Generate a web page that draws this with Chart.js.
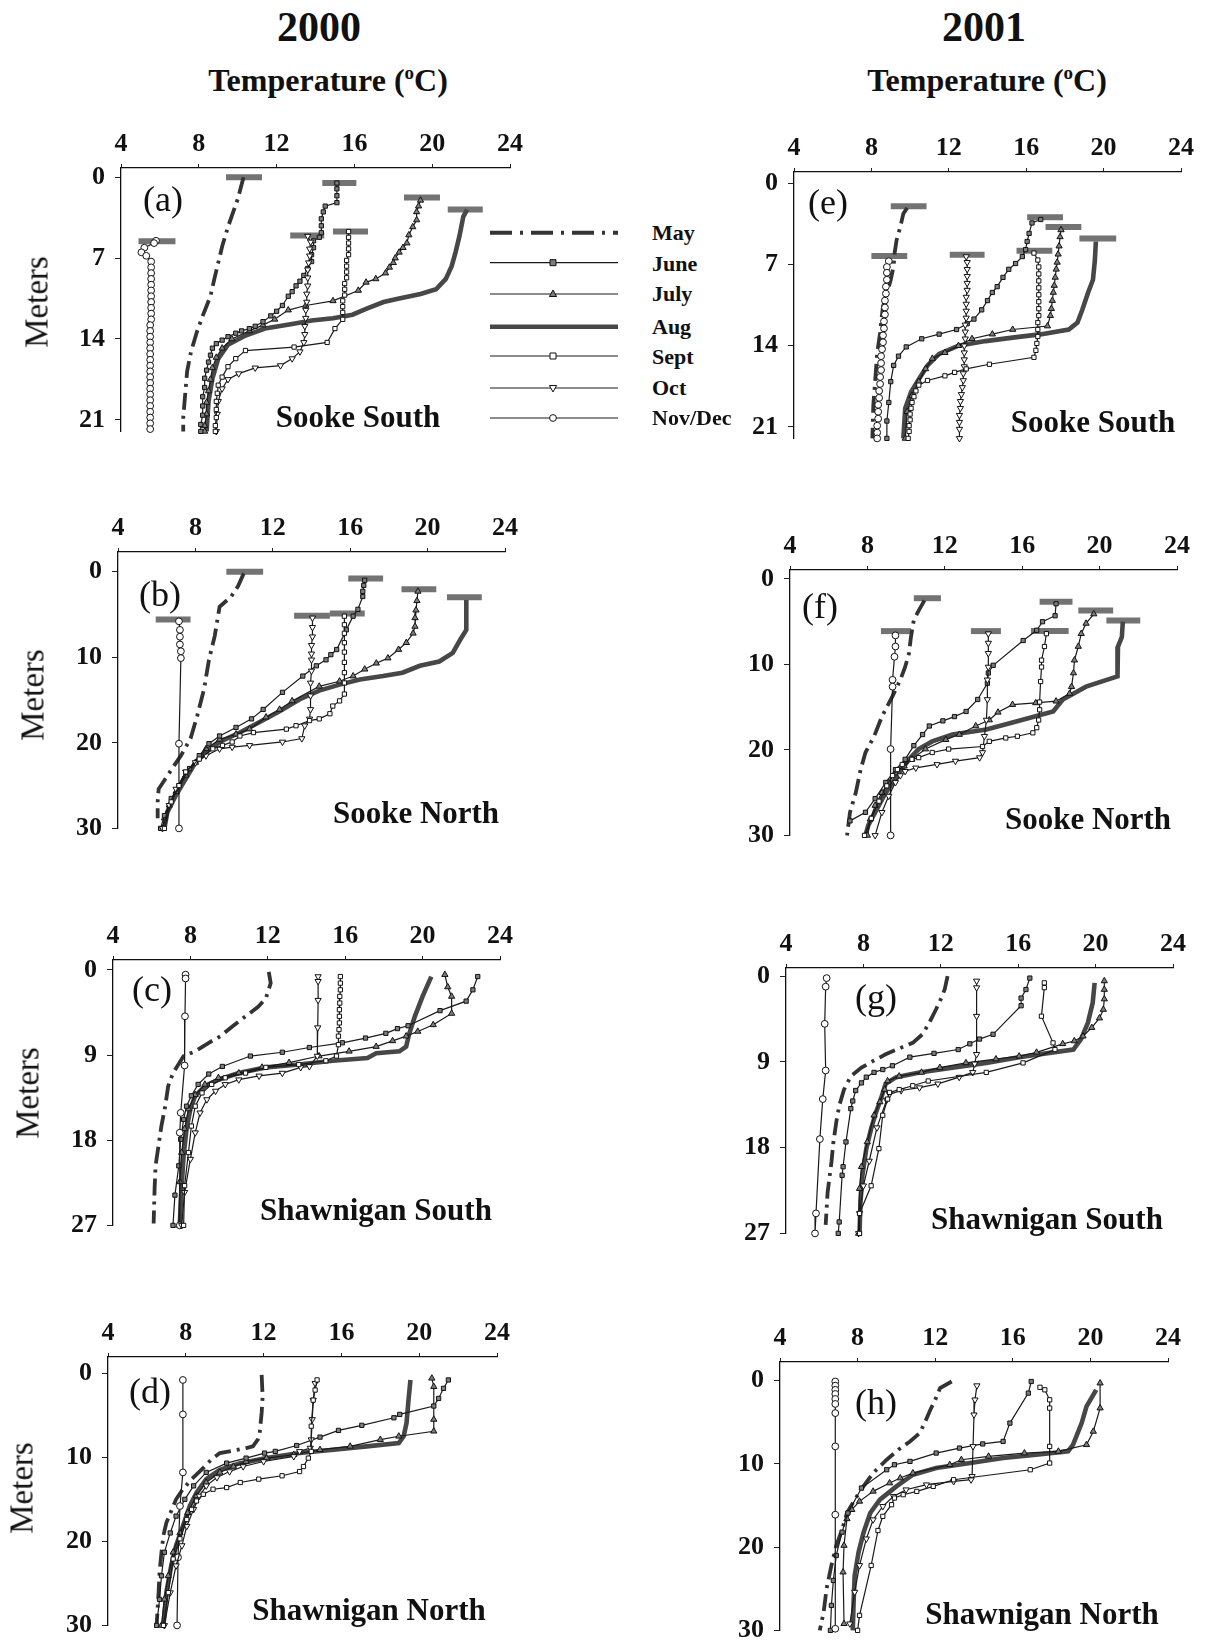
<!DOCTYPE html>
<html><head><meta charset="utf-8">
<script src="https://cdn.jsdelivr.net/npm/chart.js@4.4.0/dist/chart.umd.min.js"></script>
<style>
html,body{margin:0;padding:0;background:#fff;}
body{width:1205px;height:1643px;position:relative;overflow:hidden;font-family:"Liberation Serif","Times New Roman",serif;color:#111;}
.t{position:absolute;transform:translate(-50%,-50%);white-space:nowrap;line-height:1;}
.b{font-weight:bold;}
.lg{position:absolute;white-space:nowrap;line-height:1;font-weight:bold;font-size:22px;transform:translateY(-50%);}
canvas{position:absolute;}
</style></head><body>
<script>
// ---------- axis ticks / categories ----------
const xTicks = [4, 8, 12, 16, 20, 24];
const yTicks21 = [0, 7, 14, 21];
const yTicks30 = [0, 10, 20, 30];
const yTicks27 = [0, 9, 18, 27];
const months = ['May', 'June', 'July', 'Aug', 'Sept', 'Oct', 'Nov/Dec'];

// ---------- (a) Sooke South 2000 : [temperature, depth] ----------
const A_May = [[10.3,0.0],[10.0,1.9],[9.5,4.3],[9.2,6.0],[9.0,7.4],[8.8,8.8],[8.6,10.3],[8.2,12.0],[7.9,13.4],[7.6,15.1],[7.4,16.8],[7.3,18.8],[7.2,20.8],[7.2,22.0]];
const A_June = [[15.1,0.5],[15.1,1.0],[15.1,1.6],[15.1,2.2],[14.5,2.5],[14.4,3.0],[14.3,3.6],[14.3,4.2],[14.3,4.8],[14.2,5.2],[13.9,5.5],[13.9,6.1],[13.8,6.7],[13.8,7.3],[13.6,7.9],[13.4,8.5],[13.2,9.0],[13.0,9.4],[12.8,9.9],[12.6,10.3],[12.3,11.1],[12.0,11.6],[11.7,12.0],[11.3,12.5],[10.9,12.9],[10.6,13.1],[10.2,13.3],[9.9,13.5],[9.5,13.8],[9.2,14.1],[8.9,14.4],[8.7,14.8],[8.6,15.4],[8.5,16.0],[8.4,16.7],[8.3,17.4],[8.3,18.2],[8.2,19.0],[8.2,19.8],[8.2,20.6],[8.1,21.4],[8.1,22.0]];
const A_July = [[19.4,2.0],[19.3,2.5],[19.2,3.0],[19.2,3.7],[19.0,4.3],[18.8,5.0],[18.7,5.7],[18.5,6.1],[18.3,6.5],[18.1,7.0],[18.0,7.4],[17.8,7.8],[17.6,8.3],[17.1,8.8],[16.6,9.1],[16.2,9.8],[14.9,10.7],[13.5,11.1],[12.6,11.5],[11.9,12.3],[11.3,12.8],[10.6,13.3],[9.7,14.0],[9.2,14.8],[8.9,15.6],[8.7,16.5],[8.6,17.5],[8.5,18.5],[8.4,19.5],[8.4,20.5],[8.3,21.5],[8.3,22.0]];
const A_Aug = [[21.8,2.8],[21.6,3.4],[21.4,5.1],[21.2,6.5],[21.0,7.7],[20.7,8.8],[20.2,9.7],[19.4,10.1],[18.3,10.5],[17.5,10.8],[16.6,11.4],[15.9,11.9],[14.9,12.2],[13.8,12.4],[12.8,12.7],[11.4,13.1],[10.4,13.7],[9.5,14.5],[9.0,15.7],[8.7,17.4],[8.5,19.4],[8.4,22.0]];
const A_Sept = [[15.7,4.7],[15.7,5.2],[15.7,5.7],[15.7,6.2],[15.7,6.7],[15.6,7.2],[15.6,7.7],[15.6,8.2],[15.6,8.7],[15.5,9.2],[15.5,9.7],[15.5,10.2],[15.4,10.7],[15.4,11.2],[15.4,11.7],[15.4,12.3],[15.0,13.1],[14.6,14.3],[12.9,14.7],[10.4,15.0],[9.9,15.7],[9.5,16.4],[9.2,17.3],[9.0,18.0],[8.95,18.7],[8.9,19.4],[8.9,20.1],[8.9,20.8],[8.85,21.5],[8.85,22.0]];
const A_Oct = [[13.6,5.1],[13.75,5.6],[13.7,6.2],[13.7,6.8],[13.65,7.4],[13.6,8.0],[13.6,8.7],[13.6,9.4],[13.55,10.1],[13.55,10.8],[13.5,11.5],[13.5,12.2],[13.45,12.9],[13.45,13.6],[13.4,14.3],[13.2,15.1],[12.8,15.7],[12.2,16.3],[10.9,16.5],[10.05,17.0],[9.5,17.5],[9.2,18.3],[9.0,19.4],[8.95,20.5],[8.9,22.0]];
const A_NovDec = [[5.8,5.5],[5.7,5.7],[5.2,6.1],[5.05,6.5],[5.3,6.8],[5.55,7.3],[5.55,7.8],[5.55,8.3],[5.55,8.8],[5.55,9.3],[5.55,9.8],[5.55,10.3],[5.55,10.8],[5.55,11.3],[5.55,11.8],[5.55,12.3],[5.5,12.8],[5.5,13.3],[5.5,13.8],[5.5,14.3],[5.5,14.8],[5.5,15.3],[5.5,15.8],[5.5,16.3],[5.5,16.8],[5.5,17.3],[5.5,17.8],[5.5,18.3],[5.5,18.8],[5.5,19.3],[5.5,19.8],[5.5,20.3],[5.5,20.8],[5.5,21.3],[5.5,21.8]];
const A_Bars = [[9.4,11.25,0.0],[14.35,16.1,0.5],[18.55,20.4,1.75],[20.8,22.6,2.8],[14.9,16.7,4.7],[12.7,14.45,5.05],[4.9,6.8,5.55]];

// ---------- (b) Sooke North 2000 ----------
const B_May = [[10.5,0.2],[10.2,1.7],[9.85,2.9],[9.25,4.1],[9.0,7.5],[8.7,10.3],[8.45,13.7],[8.1,16.8],[7.75,19.5],[7.25,21.5],[6.8,23.0],[6.45,24.2],[6.1,25.4],[6.05,26.9],[6.05,28.8]];
const B_June = [[16.75,1.0],[16.7,1.6],[16.65,2.3],[16.65,2.9],[16.4,4.4],[16.15,5.2],[15.8,6.8],[15.3,9.1],[15.0,9.7],[14.75,10.3],[14.25,11.0],[13.55,12.2],[12.5,14.1],[11.5,16.1],[10.9,17.2],[10.1,18.2],[9.25,19.2],[8.7,20.1],[8.2,21.5],[7.7,23.0],[7.15,25.0],[6.75,26.5],[6.4,28.5],[6.2,30.0]];
const B_July = [[19.5,2.3],[19.45,3.4],[19.4,4.5],[19.35,5.4],[19.35,6.4],[19.25,7.2],[18.9,8.3],[18.5,9.1],[17.95,10.1],[17.35,10.7],[16.75,11.4],[16.15,12.2],[15.45,12.8],[14.4,13.4],[13.0,15.1],[12.35,16.1],[11.65,17.0],[10.8,18.4],[10.1,19.0],[9.25,19.6],[8.55,20.7],[8.0,22.3],[7.5,23.8],[7.0,25.7],[6.65,27.3],[6.4,28.8],[6.3,30.0]];
const B_Aug = [[22.0,3.3],[22.0,6.8],[21.7,7.9],[21.3,9.5],[20.6,10.5],[19.6,11.0],[18.7,11.8],[17.7,12.2],[16.5,12.6],[15.45,13.2],[14.4,13.9],[13.4,14.9],[12.35,16.3],[11.3,17.6],[10.3,18.8],[9.25,19.9],[8.55,21.1],[8.0,22.3],[7.5,24.2],[7.0,26.1],[6.55,28.1],[6.4,30.0]];
const B_Sept = [[15.7,5.2],[15.7,6.2],[15.7,7.2],[15.7,8.3],[15.7,9.4],[15.7,10.6],[15.7,11.8],[15.7,13.0],[15.7,14.3],[15.45,15.1],[15.1,15.7],[14.95,16.6],[14.4,17.2],[13.9,17.4],[13.2,18.0],[12.7,18.4],[11.0,18.8],[10.3,19.2],[9.9,19.9],[9.4,20.3],[8.9,20.7],[8.2,21.9],[7.5,23.4],[7.15,25.0],[6.75,26.9],[6.4,30.0]];
const B_Oct = [[14.05,5.4],[14.05,6.5],[14.05,7.6],[14.0,8.6],[14.0,9.6],[14.0,10.3],[14.0,11.6],[13.95,13.0],[13.95,14.5],[13.95,16.1],[13.9,17.2],[13.65,18.0],[13.5,19.5],[12.5,19.9],[10.8,20.3],[9.9,20.5],[9.25,20.7],[8.55,21.5],[8.0,22.3],[7.5,23.4],[7.0,25.4],[6.65,27.3],[6.3,30.0]];
const B_NovDec = [[7.15,5.8],[7.2,6.8],[7.2,7.6],[7.2,8.5],[7.25,9.3],[7.25,10.1],[7.15,20.1],[7.15,30.0]];
const B_Bars = [[9.6,11.5,0.0],[15.9,17.7,0.8],[18.65,20.45,2.05],[21.0,22.8,3.0],[14.95,16.75,4.9],[13.1,14.95,5.15],[5.95,7.75,5.6]];

// ---------- (c) Shawnigan South 2000 ----------
const C_May = [[12.05,0.2],[12.15,1.4],[11.9,3.0],[11.5,3.9],[10.85,4.9],[10.15,6.0],[9.55,7.0],[8.95,7.7],[8.25,8.6],[7.65,9.1],[7.1,10.9],[6.85,12.3],[6.7,14.4],[6.5,16.5],[6.35,18.6],[6.2,20.7],[6.15,23.1],[6.1,26.8]];
const C_June = [[22.85,0.7],[22.6,2.1],[22.25,3.3],[20.9,4.3],[19.25,5.9],[18.7,6.2],[18.1,6.7],[17.05,7.2],[15.85,7.7],[14.15,8.2],[12.75,8.7],[11.1,9.1],[9.65,10.2],[8.95,11.0],[8.4,12.1],[8.05,13.3],[7.8,14.4],[7.65,15.8],[7.5,17.9],[7.4,20.7],[7.2,23.8],[7.1,27.0]];
const C_July = [[21.15,0.5],[21.3,1.8],[21.5,2.8],[21.5,4.6],[20.55,5.8],[19.75,6.5],[19.15,7.0],[18.45,7.5],[17.6,8.1],[16.2,8.6],[14.65,9.1],[13.1,9.8],[11.7,10.3],[10.5,10.9],[9.45,11.4],[8.75,12.1],[8.25,13.2],[7.9,14.7],[7.7,16.8],[7.55,19.3],[7.45,22.4],[7.4,27.0]];
const C_Aug = [[20.45,0.7],[20.0,2.8],[19.6,4.9],[19.3,6.8],[19.15,8.1],[18.8,8.6],[17.6,8.8],[17.15,9.3],[15.35,9.6],[13.6,10.0],[11.9,10.3],[10.5,10.9],[9.45,11.6],[8.75,12.3],[8.25,13.3],[8.0,14.7],[7.8,16.8],[7.65,19.6],[7.55,22.8],[7.45,27.0]];
const C_Sept = [[15.75,0.7],[15.75,1.4],[15.75,2.1],[15.72,2.8],[15.72,3.5],[15.7,4.2],[15.7,4.9],[15.7,5.6],[15.68,6.3],[15.65,7.0],[15.65,7.9],[15.55,9.1],[15.0,9.6],[13.6,10.0],[11.9,10.3],[10.85,10.9],[9.8,11.4],[9.1,12.1],[8.6,13.0],[8.25,14.4],[8.05,16.5],[7.9,19.3],[7.7,22.8],[7.65,27.0]];
const C_Oct = [[14.6,0.7],[14.6,1.2],[14.6,3.2],[14.58,6.1],[14.56,9.1],[14.15,10.2],[13.7,10.3],[12.75,10.9],[11.55,11.2],[10.5,11.6],[9.8,12.1],[9.3,12.8],[8.85,13.7],[8.5,15.1],[8.25,17.2],[8.0,20.0],[7.7,23.5],[7.55,27.0]];
const C_NovDec = [[7.75,0.5],[7.75,0.9],[7.72,4.9],[7.7,10.1],[7.5,15.1],[7.45,17.2],[7.45,27.0]];

// ---------- (d) Shawnigan North 2000 ----------
const D_May = [[11.9,0.2],[11.95,2.8],[11.9,4.7],[11.8,7.1],[11.7,7.9],[11.45,8.7],[11.1,8.9],[10.45,9.2],[9.75,9.5],[9.3,10.3],[8.8,11.5],[8.3,12.6],[7.85,13.8],[7.5,15.0],[7.25,16.4],[7.0,17.8],[6.85,19.3],[6.75,21.3],[6.65,23.7],[6.6,26.1],[6.5,30.0]];
const D_June = [[21.5,0.8],[21.25,1.8],[21.0,3.0],[20.75,3.9],[19.0,4.9],[18.7,5.3],[17.05,6.2],[15.85,6.8],[14.9,7.6],[13.7,8.6],[12.6,9.3],[12.05,9.5],[11.1,10.1],[10.1,10.7],[9.05,11.8],[8.4,13.4],[7.95,15.0],[7.5,17.0],[7.2,19.0],[6.9,21.3],[6.75,24.1],[6.65,26.9],[6.5,30.0]];
const D_July = [[20.65,0.6],[20.75,1.6],[20.75,5.5],[20.75,6.9],[18.95,7.5],[18.0,7.9],[16.45,8.7],[14.9,9.1],[13.55,9.7],[12.15,10.1],[11.1,10.5],[10.45,11.1],[9.75,11.8],[9.05,13.0],[8.55,14.6],[8.1,16.6],[7.7,19.0],[7.35,21.3],[7.1,24.1],[6.9,26.9],[6.75,30.0]];
const D_Aug = [[19.55,0.8],[19.45,3.2],[19.35,5.9],[19.2,7.5],[18.95,8.3],[17.3,8.7],[15.6,9.1],[13.85,9.5],[12.15,10.1],[10.8,10.7],[9.75,11.5],[9.05,12.6],[8.55,14.2],[8.2,15.8],[7.85,18.2],[7.5,20.5],[7.25,22.9],[7.0,26.1],[6.85,30.0]];
const D_Sept = [[14.75,0.8],[14.65,2.0],[14.55,3.2],[14.45,6.3],[14.45,9.3],[14.3,10.1],[14.05,11.1],[13.85,11.7],[12.95,12.2],[11.75,12.6],[10.8,13.0],[10.1,13.6],[9.4,13.8],[8.9,14.4],[8.55,15.2],[8.3,16.2],[8.05,17.4],[7.7,19.7],[7.35,22.1],[7.1,26.1],[6.85,30.0]];
const D_Oct = [[14.65,1.2],[14.55,3.2],[14.5,5.5],[14.45,7.9],[14.4,8.9],[13.85,9.3],[13.55,9.9],[12.0,10.5],[10.95,11.1],[10.25,11.7],[9.6,12.4],[9.05,13.4],[8.7,14.6],[8.4,16.2],[8.05,18.2],[7.8,20.5],[7.5,22.9],[7.2,26.1],[6.9,30.0]];
const D_NovDec = [[7.85,0.8],[7.85,4.9],[7.85,11.8],[7.7,15.8],[7.6,21.9],[7.55,30.0]];

// ---------- (e) Sooke South 2001 ----------
const E_May = [[9.85,2.1],[9.65,2.6],[9.5,3.7],[9.3,4.9],[9.2,6.0],[9.15,7.1],[9.0,8.3],[8.8,9.5],[8.6,10.6],[8.5,12.0],[8.45,12.9],[8.3,14.6],[8.2,16.9],[8.1,19.1],[8.05,22.0]];
const E_June = [[16.75,3.1],[16.3,3.4],[16.15,4.3],[16.05,5.0],[15.97,5.7],[15.8,6.3],[15.45,6.9],[15.1,7.4],[14.8,8.1],[14.5,8.9],[14.25,9.4],[14.0,10.1],[13.7,10.9],[13.3,11.7],[12.95,12.1],[12.4,12.6],[11.5,13.0],[10.6,13.4],[9.8,14.1],[9.4,14.9],[9.15,15.7],[9.0,17.1],[8.9,18.9],[8.8,20.5],[8.8,22.0]];
const E_July = [[17.8,4.0],[17.75,4.6],[17.7,5.4],[17.65,6.1],[17.6,6.8],[17.55,7.4],[17.5,8.1],[17.45,8.8],[17.4,9.4],[17.35,10.1],[17.3,10.8],[17.25,11.4],[17.1,12.3],[15.3,12.6],[14.25,13.0],[13.2,13.4],[12.5,14.0],[11.8,14.6],[11.15,15.1],[10.8,16.0],[10.45,17.1],[10.1,18.3],[9.85,19.7],[9.75,22.0]];
const E_Aug = [[19.6,5.0],[19.55,6.6],[19.45,8.3],[19.2,9.4],[18.9,10.9],[18.65,12.0],[18.2,12.6],[16.8,13.0],[15.3,13.3],[13.9,13.6],[12.5,14.0],[11.5,14.7],[10.9,15.7],[10.45,16.9],[10.05,18.0],[9.75,19.4],[9.65,22.0]];
const E_Sept = [[16.4,6.0],[16.6,6.6],[16.65,7.2],[16.65,7.8],[16.65,8.4],[16.65,9.0],[16.65,9.6],[16.65,10.2],[16.65,10.8],[16.65,11.4],[16.6,12.0],[16.6,12.6],[16.6,13.2],[16.55,13.8],[16.5,14.4],[16.4,15.0],[14.1,15.6],[12.9,16.0],[12.3,16.3],[11.8,16.6],[10.9,17.0],[10.45,17.4],[10.3,17.9],[10.2,18.4],[10.1,18.9],[10.05,19.4],[10.0,19.9],[10.0,20.4],[9.95,20.9],[9.95,21.4],[9.9,22.0]];
const E_Oct = [[12.9,6.3],[12.95,6.8],[12.95,7.4],[12.95,8.0],[12.95,8.6],[12.95,9.2],[12.9,9.8],[12.9,10.4],[12.9,11.0],[12.9,11.6],[12.85,12.2],[12.85,12.8],[12.85,13.4],[12.8,14.0],[12.8,14.6],[12.8,15.2],[12.8,15.8],[12.75,16.4],[12.75,17.0],[12.7,17.6],[12.65,18.2],[12.6,18.8],[12.6,19.4],[12.55,20.0],[12.55,20.6],[12.55,21.2],[12.55,22.0]];
const E_NovDec = [[8.9,6.7],[8.8,7.2],[8.8,7.7],[8.8,8.3],[8.75,8.9],[8.75,9.5],[8.7,10.1],[8.7,10.7],[8.7,11.3],[8.65,11.9],[8.65,12.5],[8.6,13.1],[8.6,13.7],[8.55,14.3],[8.5,14.9],[8.5,15.5],[8.5,16.1],[8.45,16.7],[8.45,17.3],[8.4,17.9],[8.4,18.5],[8.35,19.1],[8.35,19.7],[8.35,20.3],[8.3,20.9],[8.3,21.5],[8.3,22.0]];
const E_Bars = [[9.0,10.85,1.95],[16.05,17.9,2.9],[17.0,18.85,3.75],[18.75,20.65,4.75],[15.5,17.35,5.8],[12.05,13.85,6.15],[8.0,9.85,6.25]];

// ---------- (f) Sooke North 2001 ----------
const F_May = [[10.95,2.5],[10.65,3.7],[10.4,4.8],[10.25,6.8],[10.15,8.7],[9.95,10.3],[9.7,11.8],[9.3,13.7],[8.75,16.1],[8.35,18.4],[7.9,20.3],[7.65,22.3],[7.4,25.0],[7.1,27.3],[6.95,30.0]];
const F_June = [[17.75,2.9],[17.7,4.3],[17.05,5.0],[16.75,6.0],[16.05,7.2],[14.5,10.1],[14.25,11.0],[14.2,12.2],[13.7,14.1],[13.1,15.5],[12.5,16.1],[11.9,16.6],[11.2,17.2],[10.85,18.2],[10.4,19.5],[9.95,21.1],[9.45,22.3],[8.95,23.8],[8.4,25.7],[7.9,27.3],[7.1,28.3]];
const F_July = [[19.7,4.1],[19.3,5.2],[19.05,6.4],[18.9,7.9],[18.7,9.5],[18.65,11.0],[18.55,12.6],[18.45,13.4],[17.75,14.3],[16.7,14.5],[15.5,14.7],[14.75,15.6],[14.3,16.5],[13.6,17.2],[12.75,18.2],[12.05,18.8],[11.0,19.9],[10.3,21.1],[9.9,21.9],[9.45,22.7],[9.1,23.8],[8.75,25.0],[8.4,26.5],[8.15,28.1],[8.0,30.0]];
const F_Aug = [[21.2,5.0],[21.15,6.8],[20.95,7.9],[20.95,10.3],[20.9,11.4],[19.3,12.6],[18.1,14.1],[17.6,15.5],[15.5,16.8],[14.15,17.6],[12.4,18.2],[11.35,19.0],[10.65,19.9],[10.15,21.1],[9.7,22.5],[9.3,23.8],[8.85,25.4],[8.4,27.3],[8.05,28.8],[7.9,30.0]];
const F_Sept = [[17.25,6.4],[17.15,7.9],[17.0,9.5],[17.0,10.3],[16.95,12.0],[16.9,14.4],[16.9,15.3],[16.85,16.5],[16.75,17.4],[16.55,18.0],[15.75,18.4],[15.15,18.6],[14.3,19.0],[13.95,19.6],[12.2,19.9],[11.35,20.3],[10.65,20.9],[10.3,21.1],[9.8,21.7],[9.55,22.3],[9.3,23.0],[9.0,24.2],[8.6,26.0],[8.2,28.0],[7.85,30.0]];
const F_Oct = [[14.25,6.4],[14.25,7.5],[14.25,8.7],[14.25,10.3],[14.2,11.8],[14.2,14.1],[14.15,16.5],[14.05,18.4],[13.95,20.3],[13.8,20.9],[12.55,21.3],[11.6,21.7],[10.5,22.1],[9.95,22.5],[9.7,23.0],[9.45,23.8],[9.1,25.4],[8.75,27.3],[8.4,30.0]];
const F_NovDec = [[9.45,6.6],[9.45,7.9],[9.4,9.1],[9.3,11.8],[9.3,12.6],[9.2,19.9],[9.2,30.0]];
const F_Bars = [[10.4,11.8,2.25],[16.9,18.6,2.65],[18.9,20.7,3.7],[20.35,22.1,4.85],[16.45,18.4,6.1],[13.35,14.9,6.1],[8.7,10.25,6.1]];

// ---------- (g) Shawnigan South 2001 ----------
const G_May = [[12.35,0.0],[12.2,1.4],[12.0,2.4],[11.75,3.5],[11.4,4.9],[11.05,6.1],[10.55,7.0],[9.95,7.5],[9.15,8.2],[8.5,8.9],[7.9,9.6],[7.35,10.5],[7.0,11.9],[6.75,13.6],[6.6,15.3],[6.45,17.4],[6.35,19.5],[6.15,22.7],[6.05,26.1]];
const G_June = [[16.6,0.2],[16.4,1.4],[16.15,2.3],[16.15,3.1],[14.7,6.1],[14.0,6.6],[13.5,7.1],[12.9,7.7],[11.65,8.1],[10.4,8.5],[9.5,9.4],[9.0,9.8],[8.55,10.1],[8.15,10.6],[7.9,11.2],[7.6,12.0],[7.45,13.1],[7.35,13.9],[7.1,17.4],[6.95,20.0],[6.9,20.9],[6.75,25.8],[6.7,27.0]];
const G_July = [[20.45,0.5],[20.45,1.4],[20.45,2.4],[20.4,3.5],[20.2,4.4],[19.8,5.4],[19.35,6.3],[18.9,6.8],[18.3,7.1],[16.95,8.0],[16.05,8.4],[14.85,8.7],[13.3,9.1],[11.95,9.6],[11.0,10.1],[9.85,10.5],[9.25,11.0],[9.1,11.9],[8.85,13.2],[8.55,14.6],[8.2,17.4],[7.9,20.0],[7.8,22.3],[7.75,27.0]];
const G_Aug = [[19.95,0.7],[19.85,2.8],[19.6,4.9],[19.25,6.6],[18.85,7.7],[17.8,8.0],[16.05,8.5],[14.35,9.1],[12.6,9.6],[10.9,10.1],[9.7,10.6],[9.15,11.3],[8.9,12.9],[8.65,14.3],[8.4,16.0],[8.15,18.1],[7.95,20.9],[7.85,23.7],[7.8,27.0]];
const G_Sept = [[17.35,0.7],[17.35,1.2],[17.2,4.2],[17.8,7.0],[17.9,7.7],[16.25,9.1],[14.35,10.1],[11.35,11.0],[10.55,11.5],[9.85,11.9],[9.35,12.2],[9.25,12.9],[9.0,14.6],[8.8,18.1],[8.4,22.0],[7.8,24.9],[7.8,27.0]];
const G_Oct = [[13.85,0.5],[13.85,1.2],[13.85,4.2],[13.85,8.2],[13.75,9.2],[13.65,10.1],[12.95,10.6],[11.85,11.3],[10.9,11.7],[9.95,12.0],[9.35,12.4],[9.2,13.0],[8.7,15.9],[8.3,19.4],[8.0,22.0],[7.8,24.9],[7.75,27.0]];
const G_NovDec = [[6.1,0.2],[6.05,1.1],[6.0,5.0],[6.05,9.9],[5.9,12.9],[5.75,17.1],[5.55,24.9],[5.5,27.0]];

// ---------- (h) Shawnigan North 2001 ----------
const H_May = [[12.85,0.1],[12.25,0.9],[12.0,2.3],[11.75,3.5],[11.45,5.1],[11.2,6.3],[10.7,7.3],[10.1,8.3],[9.5,9.5],[8.8,11.1],[8.3,12.7],[7.85,14.3],[7.45,15.9],[7.2,17.9],[6.9,19.8],[6.65,22.2],[6.4,25.0],[6.25,27.8],[6.05,30.0]];
const H_June = [[16.95,0.1],[16.8,1.5],[15.85,5.1],[15.5,7.3],[14.45,7.6],[13.25,8.1],[12.05,8.7],[10.7,9.7],[9.9,10.1],[9.5,10.7],[8.2,12.9],[7.5,15.9],[7.2,18.2],[6.9,21.0],[6.75,24.0],[6.65,27.0],[6.6,30.0]];
const H_July = [[20.5,0.3],[20.5,3.3],[20.15,6.1],[19.8,7.7],[18.35,8.5],[16.6,8.7],[14.75,9.1],[13.35,9.5],[12.75,10.1],[10.85,11.1],[10.2,11.7],[9.65,12.3],[8.8,13.3],[8.1,14.5],[7.7,15.5],[7.45,16.6],[7.3,19.8],[7.25,23.0],[7.3,29.2]];
const H_Aug = [[20.3,1.1],[19.8,3.1],[19.55,5.1],[19.1,7.7],[18.85,8.5],[17.2,8.9],[15.5,9.3],[13.8,9.9],[12.05,10.5],[10.85,11.3],[10.0,12.7],[9.15,14.3],[8.65,15.9],[8.3,18.3],[8.05,20.6],[7.85,23.4],[7.8,26.2],[7.75,30.0]];
const H_Sept = [[17.4,0.8],[17.65,1.1],[17.9,2.3],[17.9,3.3],[17.9,7.9],[17.9,9.9],[16.9,10.7],[12.95,11.9],[11.9,12.7],[11.05,13.3],[10.35,13.7],[9.9,14.1],[9.75,14.9],[9.3,16.3],[9.05,18.0],[8.7,22.2],[8.1,28.2],[8.0,30.0]];
const H_Oct = [[14.15,0.6],[14.05,2.3],[14.0,4.1],[13.95,7.9],[13.9,11.5],[13.85,11.9],[12.95,12.1],[11.55,12.5],[10.5,13.1],[9.85,13.9],[9.3,15.1],[8.8,16.7],[8.45,19.0],[8.1,22.2],[7.85,25.4],[7.6,29.2]];
const H_NovDec = [[6.85,0.1],[6.85,0.6],[6.85,1.1],[6.85,1.6],[6.85,2.2],[6.85,2.8],[6.85,3.9],[6.85,7.9],[6.85,16.1],[6.85,29.8]];

// ---------- layout (pixel geometry, not data) ----------
const panels = [
  {series:[A_May,A_June,A_July,A_Aug,A_Sept,A_Oct,A_NovDec], bars:A_Bars, yt:yTicks21, x4:121, x24:510, top:168, bot:433, ymin:-0.8, ymax:22},
  {series:[B_May,B_June,B_July,B_Aug,B_Sept,B_Oct,B_NovDec], bars:B_Bars, yt:yTicks30, x4:118, x24:505, top:552, bot:830, ymin:-2.3, ymax:30},
  {series:[C_May,C_June,C_July,C_Aug,C_Sept,C_Oct,C_NovDec], bars:null, yt:yTicks27, x4:113, x24:500, top:960, bot:1227, ymin:-1.05, ymax:27},
  {series:[D_May,D_June,D_July,D_Aug,D_Sept,D_Oct,D_NovDec], bars:null, yt:yTicks30, x4:108, x24:497, top:1357, bot:1627, ymin:-1.93, ymax:30},
  {series:[E_May,E_June,E_July,E_Aug,E_Sept,E_Oct,E_NovDec], bars:E_Bars, yt:yTicks21, x4:794, x24:1181, top:172, bot:440, ymin:-1.0, ymax:22},
  {series:[F_May,F_June,F_July,F_Aug,F_Sept,F_Oct,F_NovDec], bars:F_Bars, yt:yTicks30, x4:790, x24:1177, top:570, bot:837, ymin:-1.05, ymax:30},
  {series:[G_May,G_June,G_July,G_Aug,G_Sept,G_Oct,G_NovDec], bars:null, yt:yTicks27, x4:786, x24:1173, top:968, bot:1235, ymin:-0.86, ymax:27},
  {series:[H_May,H_June,H_July,H_Aug,H_Sept,H_Oct,H_NovDec], bars:null, yt:yTicks30, x4:780, x24:1168, top:1362, bot:1632, ymin:-2.24, ymax:30}
];

const styles = [
  {color:'#333333', width:3.8, dash:[17,6,3,6], r:0, ps:'circle', fill:'#333', rot:0, order:3},
  {color:'#1a1a1a', width:1.2, dash:[], r:3, ps:'rect', fill:'#7d7d7d', rot:0, order:1},
  {color:'#1a1a1a', width:1.2, dash:[], r:3.6, ps:'triangle', fill:'#7d7d7d', rot:0, order:1},
  {color:'#474747', width:4.6, dash:[], r:0, ps:'circle', fill:'#444', rot:0, order:2},
  {color:'#1a1a1a', width:1.2, dash:[], r:3, ps:'rect', fill:'#ffffff', rot:0, order:0},
  {color:'#1a1a1a', width:1.2, dash:[], r:3.6, ps:'triangle', fill:'#ffffff', rot:180, order:0},
  {color:'#1a1a1a', width:1.2, dash:[], r:3.4, ps:'circle', fill:'#ffffff', rot:0, order:0}
];

const LEFT = 70, TOPH = 48, PADR = 24, PADB = 24;
const tickFont = {family:'"Liberation Serif", "Times New Roman", serif', size:26, weight:'bold'};

panels.forEach((p) => {
  const W = LEFT + (p.x24 - p.x4) + PADR;
  const H = TOPH + (p.bot - p.top) + PADB;
  const cv = document.createElement('canvas');
  cv.width = W; cv.height = H;
  cv.style.width = W + 'px'; cv.style.height = H + 'px';
  cv.style.left = (p.x4 - LEFT) + 'px';
  cv.style.top = (p.top - TOPH) + 'px';
  document.body.appendChild(cv);

  const datasets = [];
  p.series.forEach((arr, i) => {
    const s = styles[i];
    datasets.push({
      label: months[i],
      data: arr.map(v => ({x: v[0], y: v[1]})),
      showLine: true, tension: 0,
      borderColor: s.color, borderWidth: s.width, borderDash: s.dash, borderCapStyle: 'butt',
      pointStyle: s.ps, pointRadius: s.r, pointHoverRadius: s.r, pointRotation: s.rot,
      pointBackgroundColor: s.fill, pointBorderColor: '#111', pointBorderWidth: 1,
      order: s.order, clip: false
    });
  });
  if (p.bars) {
    p.bars.forEach((b, i) => {
      datasets.push({
        label: months[i] + ' bar',
        data: [{x: b[0], y: b[2]}, {x: b[1], y: b[2]}],
        showLine: true, borderColor: '#737373', borderWidth: 6, borderCapStyle: 'butt',
        pointRadius: 0, order: 4, clip: false
      });
    });
  }

  new Chart(cv, {
    type: 'scatter',
    data: {datasets},
    options: {
      responsive: false, animation: false, devicePixelRatio: 1,
      layout: {padding: {left: 0, top: 0, right: PADR, bottom: PADB}},
      plugins: {legend: {display: false}, tooltip: {enabled: false}},
      events: [],
      scales: {
        x: {
          type: 'linear', position: 'top', min: 4, max: 24,
          afterBuildTicks: (sc) => { sc.ticks = xTicks.map(v => ({value: v})); },
          afterFit: (sc) => { sc.height = TOPH; },
          grid: {display: true, drawOnChartArea: false, drawTicks: true, tickLength: 4, color: '#222', lineWidth: 1},
          border: {display: true, color: '#111', width: 1.3},
          ticks: {color: '#111', font: tickFont, padding: 4, maxRotation: 0, autoSkip: false}
        },
        y: {
          type: 'linear', position: 'left', reverse: true, min: p.ymin, max: p.ymax,
          afterBuildTicks: (sc) => { sc.ticks = p.yt.map(v => ({value: v})); },
          afterFit: (sc) => { sc.width = LEFT; },
          grid: {display: true, drawOnChartArea: false, drawTicks: true, tickLength: 6, color: '#222', lineWidth: 1},
          border: {display: true, color: '#111', width: 1.3},
          ticks: {color: '#111', font: tickFont, padding: 10, autoSkip: false}
        }
      }
    }
  });
});

// ---------- legend samples (drawn in panel a's legend area) ----------
(function () {
  const lc = document.createElement('canvas');
  lc.width = 150; lc.height = 220;
  lc.style.left = '480px'; lc.style.top = '215px';
  document.body.appendChild(lc);
  const ctx = lc.getContext('2d');
  const rows = [17.7, 47.7, 79, 111.7, 141, 173, 203];
  styles.forEach((s, i) => {
    const y = rows[i];
    ctx.save();
    ctx.strokeStyle = s.color;
    ctx.lineWidth = i === 0 ? 4 : s.width;
    ctx.setLineDash(i === 0 ? [22, 8, 3, 8] : []);
    ctx.beginPath(); ctx.moveTo(10, y); ctx.lineTo(138, y); ctx.stroke();
    ctx.restore();
    if (s.r > 0) {
      ctx.save();
      ctx.translate(73, y);
      if (s.rot) ctx.rotate(Math.PI);
      ctx.fillStyle = s.fill; ctx.strokeStyle = '#111'; ctx.lineWidth = 1;
      ctx.beginPath();
      const r = s.r;
      if (s.ps === 'rect') { ctx.rect(-r, -r, 2 * r, 2 * r); }
      else if (s.ps === 'triangle') { ctx.moveTo(0, -r * 1.1); ctx.lineTo(r, r * 0.7); ctx.lineTo(-r, r * 0.7); ctx.closePath(); }
      else { ctx.arc(0, 0, r, 0, Math.PI * 2); }
      ctx.fill(); ctx.stroke();
      ctx.restore();
    }
  });
  const ys = [233, 264, 294, 327, 357, 388, 418];
  months.forEach((m, i) => {
    const d = document.createElement('div');
    d.className = 'lg';
    d.style.left = '652px'; d.style.top = ys[i] + 'px';
    d.textContent = m;
    document.body.appendChild(d);
  });
})();

// ---------- text labels ----------
function txt(html, x, y, size, bold, rot) {
  const d = document.createElement('div');
  d.className = 't' + (bold ? ' b' : '');
  d.style.left = x + 'px'; d.style.top = y + 'px';
  d.style.fontSize = size + 'px';
  if (rot) d.style.transform = 'translate(-50%,-50%) rotate(-90deg)';
  d.innerHTML = html;
  document.body.appendChild(d);
}
const degC = 'Temperature (<span style="font-size:19px;position:relative;top:-12px">o</span>C)';
txt('2000', 319, 27, 42, true);
txt('2001', 984, 27, 42, true);
txt(degC, 328, 80, 32, true);
txt(degC, 987, 80, 32, true);
[[37, 302], [33, 695], [28, 1093], [22, 1488]].forEach(c => txt('Meters', c[0], c[1], 33, false, true));
[['(a)', 163, 199], ['(b)', 160, 594], ['(c)', 152, 989], ['(d)', 150, 1391],
 ['(e)', 828, 202], ['(f)', 820, 606], ['(g)', 876, 997], ['(h)', 876, 1402]].forEach(c => txt(c[0], c[1], c[2], 36, false));
[['Sooke South', 358, 416], ['Sooke North', 416, 812], ['Shawnigan South', 376, 1209], ['Shawnigan North', 369, 1609],
 ['Sooke South', 1093, 421], ['Sooke North', 1088, 818], ['Shawnigan South', 1047, 1218], ['Shawnigan North', 1042, 1613]].forEach(c => txt(c[0], c[1], c[2], 31, true));
</script>
</body></html>
